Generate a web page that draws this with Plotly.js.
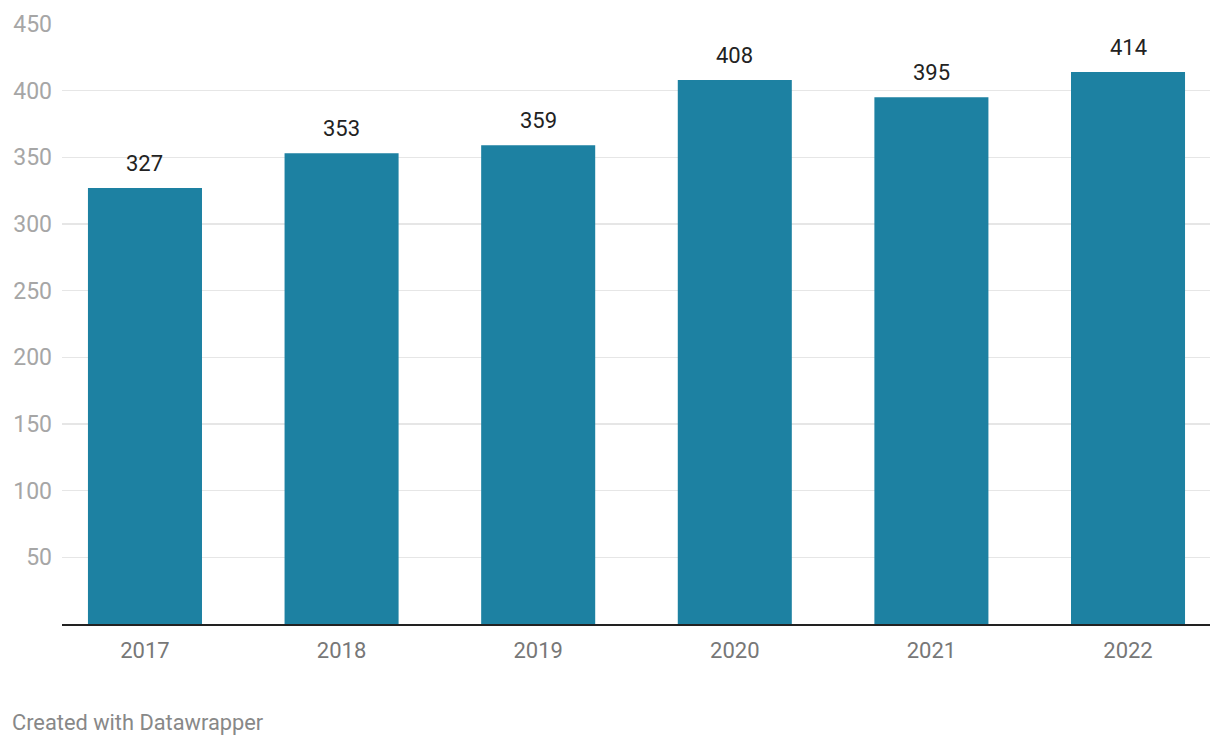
<!DOCTYPE html>
<html>
<head>
<meta charset="utf-8">
<script src="https://cdn.plot.ly/plotly-3.0.1.min.js"></script>
<style>
html,body{margin:0;padding:0;background:#fff;}
#chart{width:1220px;height:746px;}
</style>
</head>
<body>
<div id="chart"></div>
<script>
const years = ["2017", "2018", "2019", "2020", "2021", "2022"];
const values = [327, 353, 359, 408, 395, 414];
const yTicks = [50, 100, 150, 200, 250, 300, 350, 400, 450];

const trace = {
  type: "bar",
  x: years,
  y: values,
  width: 0.58,
  marker: {color: "#1d81a2"},
  hoverinfo: "x+y"
};

const annotations = years.map((yr, i) => ({
  x: i, y: values[i], xref: "x", yref: "y",
  text: String(values[i]), showarrow: false,
  yanchor: "bottom", yshift: 10,
  font: {family: "Roboto, sans-serif", size: 22, color: "#222"}
}));
annotations.push({
  xref: "paper", yref: "paper", x: 0, y: 0,
  xanchor: "left", yanchor: "middle",
  xshift: -52, yshift: -98,
  text: "Created with Datawrapper", showarrow: false,
  font: {family: "Roboto, sans-serif", size: 21.8, color: "#888"}
});

const layout = {
  width: 1220, height: 746,
  margin: {l: 62, r: 10, t: 24, b: 122},
  paper_bgcolor: "#fff", plot_bgcolor: "#fff",
  showlegend: false,
  xaxis: {
    type: "category",
    range: [-0.422, 5.417],
    showgrid: false, zeroline: false,
    showline: true, linecolor: "#222", linewidth: 2,
    ticks: "", ticklabelstandoff: 6,
    tickfont: {family: "Roboto, sans-serif", size: 22, color: "#777"}
  },
  yaxis: {
    range: [0, 450],
    tickvals: yTicks,
    ticktext: yTicks.map(String),
    showgrid: true, gridcolor: "#e6e6e6", gridwidth: 1.5,
    zeroline: false, showline: false,
    ticks: "", ticklabelstandoff: 9,
    tickfont: {family: "Roboto, sans-serif", size: 23, color: "#a6a6a6"}
  },
  annotations: annotations
};

Plotly.newPlot("chart", [trace], layout, {displayModeBar: false, staticPlot: true});
</script>
</body>
</html>
